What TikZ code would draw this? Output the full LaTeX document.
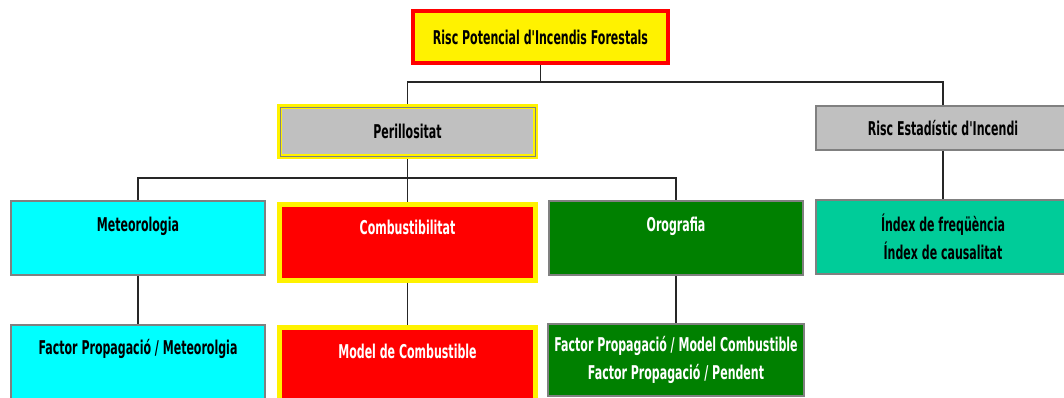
\documentclass[tikz,border=0pt]{standalone}
\usepackage{fontspec}
\newfontfamily\lblfont[FakeStretch=0.58]{DejaVu Sans Bold}
\usetikzlibrary{positioning}
\definecolor{boxgray}{HTML}{808080}
\definecolor{fillgray}{HTML}{C0C0C0}
\definecolor{aqua}{HTML}{00FFFF}
\definecolor{fgreen}{HTML}{008000}
\definecolor{seagreen}{HTML}{00CC99}

\begin{document}
\begin{tikzpicture}[x=1pt,y=-1pt,
  box/.style={draw=boxgray,line width=2pt,minimum width=254pt,inner sep=0pt,
    font=\lblfont\fontsize{19}{28}\selectfont},
  hibox/.style={box,draw=yellow,line width=5pt,minimum width=256pt},
  uptext/.style={anchor=north,text height=#1,text depth=74pt-#1},
  link/.style={line width=1.6pt,draw=black!85}]
  \useasboundingbox (0,0) rectangle (1064,397); % 画像の範囲

  \node[box,draw=red,fill=yellow,line width=4pt,minimum width=255pt,minimum height=52pt]
    (risc) at (540.5,37) {Risc Potencial d'Incendis Forestals}; % 最上位
  \node[hibox,fill=fillgray,minimum height=50pt]
    (peril) at (407.5,131.5) {Perillositat};
  \draw[boxgray,line width=1pt] ([shift={(3,3)}]peril.north west)
    rectangle ([shift={(-3,-3)}]peril.south east); % 内側の灰色の枠
  \node[box,fill=fillgray,minimum height=44pt]
    (estad) at (943,128) {Risc Estadístic d'Incendi};

  \node[box,fill=aqua,uptext=30pt] (meteo) at (138,200) {Meteorologia}; % 第三段
  \node[hibox,fill=red,text=white,anchor=north,text height=30pt,text depth=46pt]
    (combu) at (407.5,201.5) {Combustibilitat};
  \node[box,fill=fgreen,text=white,uptext=30pt] (orogr) at (676,200) {Orografia};
  \node[box,fill=seagreen,align=center,minimum height=74pt]
    (index) at (943,237) {Índex de freqüència\\Índex de causalitat};

  \node[box,fill=aqua,uptext=29pt] (fmeteo) at (138,324) {Factor Propagació / Meteorolgia}; % 最下段
  \node[hibox,fill=red,text=white,anchor=north,text height=31.5pt,text depth=44pt]
    (model) at (407.5,324.5) {Model de Combustible};
  \node[box,fill=fgreen,text=white,align=center,minimum height=72pt,minimum width=256pt]
    (forogr) at (676,360) {Factor Propagació / Model Combustible\\Factor Propagació / Pendent};

  \coordinate (bus1) at (540.5,82); % 上の横線
  \coordinate (bus2) at (407.5,178); % 下の横線
  \draw[link] (risc.south) -- (bus1);
  \draw[link] (peril.north) |- (bus1) -| (estad.north);
  \draw[link] (peril.south) -- (bus2);
  \draw[link] (meteo.north) |- (bus2) -| (orogr.north);
  \draw[link] (bus2) -- (combu.north);
  \draw[link] (estad.south) -- (index.north);
  \draw[link] (meteo.south) -- (fmeteo.north);
  \draw[link] (combu.south) -- (model.north);
  \draw[link] (orogr.south) -- (forogr.north);
\end{tikzpicture}
\end{document}
